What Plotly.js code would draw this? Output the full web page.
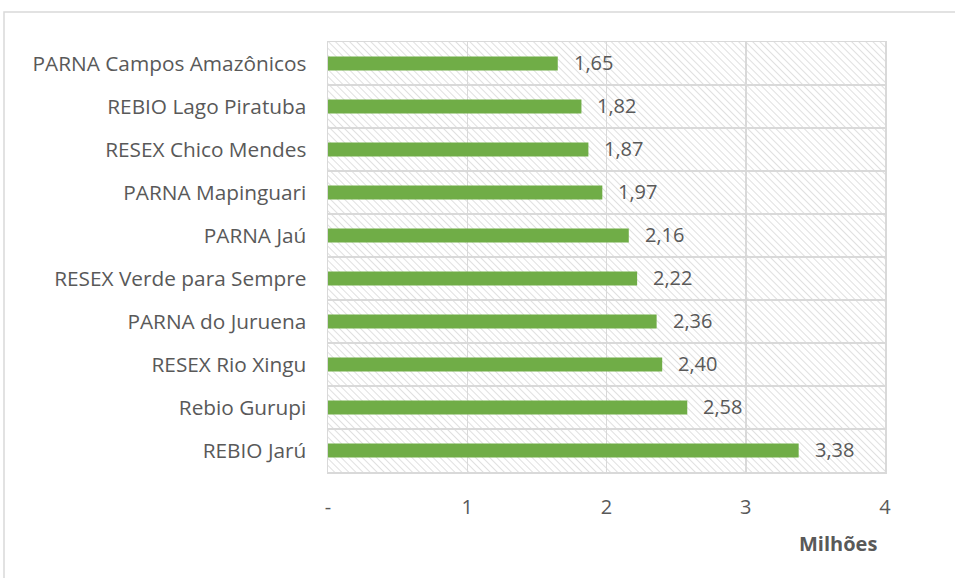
<!DOCTYPE html>
<html>
<head>
<meta charset="utf-8">
<script src="https://cdn.plot.ly/plotly-3.0.1.min.js"></script>
<style>html,body{margin:0;padding:0;background:#fff;}#chart{width:955px;height:578px;}</style>
</head>
<body>
<div id="chart"></div>
<script>
const categories = [
  "PARNA Campos Amazônicos",
  "REBIO Lago Piratuba",
  "RESEX Chico Mendes",
  "PARNA Mapinguari",
  "PARNA Jaú",
  "RESEX Verde para Sempre",
  "PARNA do Juruena",
  "RESEX Rio Xingu",
  "Rebio Gurupi",
  "REBIO Jarú"
];
const values = [1.65, 1.82, 1.87, 1.97, 2.16, 2.22, 2.36, 2.40, 2.58, 3.38];
const valueLabels = ["1,65", "1,82", "1,87", "1,97", "2,16", "2,22", "2,36", "2,40", "2,58", "3,38"];
const xTickVals = [0, 1, 2, 3, 4];
const xTickText = ["-", "1", "2", "3", "4"];
const axisTitle = "Milhões";

const FONT = "Open Sans, sans-serif";
const TXT = "#595959";
const GRID = "#d9d9d9";

const hatchSvg = (() => {
  let s = '<svg xmlns="http://www.w3.org/2000/svg" width="557" height="430">';
  s += '<defs><pattern id="h" width="5" height="5" patternUnits="userSpaceOnUse" patternTransform="rotate(-45)">';
  s += '<rect width="5" height="5" fill="#ffffff"/><line x1="0" y1="0" x2="0" y2="5" stroke="#d6d6d6" stroke-width="1.5"/></pattern></defs>';
  s += '<rect width="557" height="430" fill="url(#h)"/></svg>';
  return 'data:image/svg+xml;base64,' + btoa(s);
})();

const annotations = categories.map((c, i) => ({
  x: values[i], y: c, xref: "x", yref: "y",
  text: valueLabels[i], showarrow: false,
  xanchor: "left", yanchor: "middle", xshift: 14, yshift: 1,
  font: {family: FONT, size: 20, color: TXT}
}));
annotations.push({
  x: 1, y: 0, xref: "paper", yref: "paper",
  text: "<b>" + axisTitle + "</b>", showarrow: false,
  xanchor: "right", yanchor: "top", xshift: -6, yshift: -56,
  font: {family: FONT, size: 20, color: TXT}
});

const trace = {
  type: "bar", orientation: "h",
  y: categories, x: values,
  width: 0.33,
  marker: {color: "#70AD47"},
  hoverinfo: "skip"
};

const layout = {
  width: 955, height: 578,
  margin: {l: 328, r: 70, t: 42, b: 106},
  paper_bgcolor: "#ffffff",
  plot_bgcolor: "rgba(0,0,0,0)",
  showlegend: false,
  font: {family: FONT, color: TXT},
  xaxis: {
    range: [0, 4], tickvals: xTickVals, ticktext: xTickText,
    showgrid: true, gridcolor: GRID, gridwidth: 1.5,
    zeroline: false, showline: true, mirror: true, linecolor: GRID, linewidth: 1.5,
    ticks: "", ticklabelstandoff: 16,
    tickfont: {family: FONT, size: 20, color: TXT}, fixedrange: true
  },
  yaxis: {
    type: "category", autorange: "reversed",
    tickson: "boundaries", showgrid: true, gridcolor: GRID, gridwidth: 1.5,
    showline: true, mirror: true, linecolor: GRID, linewidth: 1.5,
    ticks: "", ticklabelstandoff: 16,
    tickfont: {family: FONT, size: 20.8, color: TXT}, fixedrange: true
  },
  images: [{
    source: hatchSvg, xref: "paper", yref: "paper",
    x: 0, y: 1, sizex: 1, sizey: 1, xanchor: "left", yanchor: "top",
    sizing: "stretch", layer: "below"
  }],
  shapes: [{
    type: "rect", xref: "paper", yref: "paper",
    x0: -0.5817, x1: 1.3, y0: -0.4, y1: 1.0698,
    line: {color: GRID, width: 1.5}, fillcolor: "rgba(0,0,0,0)", layer: "below"
  }],
  annotations: annotations
};

Plotly.newPlot("chart", [trace], layout, {displayModeBar: false, staticPlot: true});
</script>
</body>
</html>
